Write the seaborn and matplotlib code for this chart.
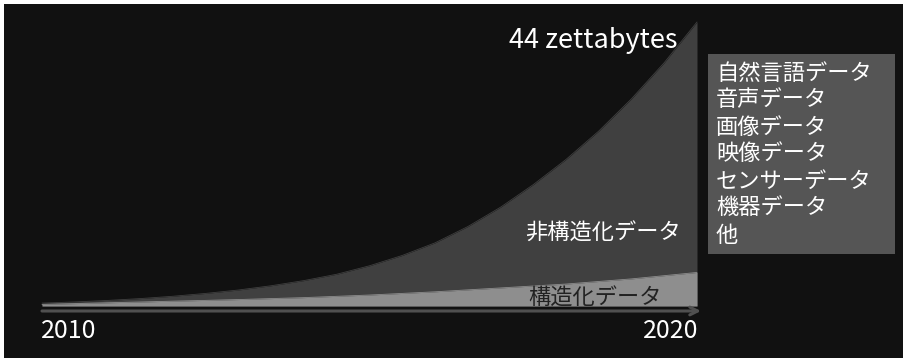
import matplotlib
matplotlib.use("Agg")
import matplotlib.pyplot as plt
import seaborn as sns
import numpy as np
import pandas as pd
from matplotlib.patches import Rectangle

# ---- data (read at half-year steps, zettabytes) ----
years = [2010.0, 2010.5, 2011.0, 2011.5, 2012.0, 2012.5, 2013.0, 2013.5,
         2014.0, 2014.5, 2015.0, 2015.5, 2016.0, 2016.5, 2017.0, 2017.5,
         2018.0, 2018.5, 2019.0, 2019.5, 2020.0]
total_data = [0.45, 0.63, 0.86, 1.15, 1.51, 1.95, 2.48, 3.14, 3.94, 4.92,
              6.23, 7.83, 9.78, 12.3, 15.3, 18.8, 22.7, 27.1, 32.1,
              37.7, 44.0]
structured = [0.25, 0.37, 0.5, 0.62, 0.75, 0.87, 1.0, 1.15, 1.3, 1.5, 1.7,
              1.95, 2.2, 2.5, 2.8, 3.1, 3.4, 3.8, 4.2, 4.7, 5.2]
total_label = "44 zettabytes"
unstructured_label = "非構造化データ"
structured_label = "構造化データ"
box_items = ["自然言語データ", "音声データ", "画像データ", "映像データ",
             "センサーデータ", "機器データ", "他"]
tick_labels = ["2010", "2020"]

sns.set_theme(style="dark")
plt.rcParams['font.family'] = ['Noto Sans CJK JP', 'DejaVu Sans']

BG = "#111111"
df = pd.DataFrame({"year": years, "total": total_data,
                   "structured": structured})

W, H = 904, 358
fig = plt.figure(figsize=(W / 100, H / 100), dpi=100, facecolor="white")
ax = fig.add_axes([4 / W, 0, 900 / W, 354 / H])
ax.set_facecolor(BG)
for s in ax.spines.values():
    s.set_visible(False)
ax.grid(False)
ax.set_xticks([])
ax.set_yticks([])

# pixel mapping helpers (reference layout)
x0px, pxyr = 42, 65.5
y0px, pxzb = 306, 6.455
def X(px):
    return 2010 + (px - x0px) / pxyr
def Y(py):
    return (y0px - py) / pxzb

ax.set_xlim(X(4), X(904))
ax.set_ylim(Y(358), Y(4))

# areas
ax.fill_between(df["year"], 0, df["total"], color="#404040", lw=0, zorder=2)
ax.fill_between(df["year"], 0, df["structured"], color="#8e8e8e", lw=0, zorder=3)
sns.lineplot(data=df, x="year", y="total", ax=ax, color="#404040", lw=0.6, zorder=2)
sns.lineplot(data=df, x="year", y="structured", ax=ax, color="#8e8e8e", lw=0.6, zorder=3)
ax.set_xlabel("")
ax.set_ylabel("")

# axis arrow
ax.annotate("", xy=(X(701), Y(311)), xytext=(X(42), Y(311)),
            arrowprops=dict(arrowstyle="->", color="#505050", lw=2.2,
                            mutation_scale=14, shrinkA=0, shrinkB=0), zorder=4)

# tick labels
ax.text(X(41), Y(331), tick_labels[0], color="white", fontsize=18,
        ha="left", va="center", zorder=5)
ax.text(X(698), Y(331), tick_labels[1], color="white", fontsize=18,
        ha="right", va="center", zorder=5)

# labels on areas
ax.text(X(678), Y(40), total_label, color="white", fontsize=19.5,
        ha="right", va="center", zorder=5)
ax.text(X(681), Y(233), unstructured_label, color="white", fontsize=16,
        ha="right", va="center", zorder=5)
ax.text(X(595), Y(298), structured_label, color="#222222", fontsize=16,
        ha="center", va="center", zorder=5)

# box
ax.add_patch(Rectangle((X(708), Y(254)), X(895) - X(708), Y(54) - Y(254),
                       facecolor="#555555", edgecolor="none", zorder=4))
for i, item in enumerate(box_items):
    ax.text(X(716), Y(73 + 27 * i), item, color="white", fontsize=16,
            ha="left", va="center", zorder=5)

fig.savefig("out.png", dpi=100, facecolor="white")
